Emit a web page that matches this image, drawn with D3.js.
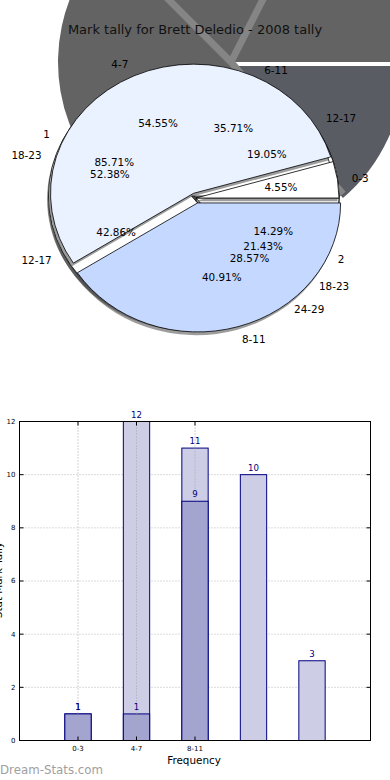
<!DOCTYPE html>
<html>
<head>
<meta charset="utf-8">
<script src="https://cdnjs.cloudflare.com/ajax/libs/d3/7.8.5/d3.min.js"></script>
<style>
  body { margin: 0; background: #fff; }
  text { font-family: "DejaVu Sans", sans-serif; }
</style>
</head>
<body>
<div id="chart"></div>
<script>
// pies are stacked on top of each other, last one ends up in front
const pieValues = [[4, 11, 6], [5, 6, 3], [12, 2], [1, 12, 9]]
const pieLabels = [['12-17', '18-23', '24-29'], ['6-11', '12-17', '18-23'], ['1', '2'], ['0-3', '4-7', '8-11']]
const pieExplode = [[0, 0.03, 0], [0, 0.02, 0], [0.035, 0], [0, 0.04, 0.04]]
const frontColors = ['#ffffff', '#eaf1ff', '#c5d8ff']

// big grey shadow left behind the pies
const backValues = [17.5, 20, 48.7, 13.8]
const backColors = ['#636363', '#636363', '#636363', '#5a5c64']

const freqLabels = ['0-3', '4-7', '8-11']
const lightTally = [1, 12, 11, 10, 3]
const darkTally = [1, 1, 9]
const yTicks = [0, 2, 4, 6, 8, 10, 12]

const svg = d3.select('#chart').append('svg')
  .attr('width', 390)
  .attr('height', 780)

const unitArc = d3.arc().innerRadius(0).outerRadius(1)
const pie = d3.pie().sort(null)
  .startAngle(Math.PI / 2)
  .endAngle(Math.PI / 2 - 2 * Math.PI)
const mid = d => (d.startAngle + d.endAngle) / 2
const dir = (a, r) => [Math.sin(a) * r, -Math.cos(a) * r]

// ---- back shadow pie
const backR = 173
const backArc = d3.arc().innerRadius(0).outerRadius(backR)
const back = svg.append('g').attr('transform', 'translate(231,62)')
const backArcs = pie(backValues)
back.selectAll('path')
  .data(backArcs)
  .enter()
  .append('path')
  .attr('d', backArc)
  .attr('fill', (d, i) => backColors[i])
  .attr('transform', (d, i) => i === 3 ? 'translate(0,4)' : null)
back.selectAll('line')
  .data(backArcs.slice(1))
  .enter()
  .append('line')
  .attr('x1', 0).attr('y1', 0)
  .attr('x2', d => dir(d.startAngle, backR)[0])
  .attr('y2', d => dir(d.startAngle, backR)[1])
  .attr('stroke', '#858585')
  .attr('stroke-width', 7)

// ---- the stacked pies
const cx = 196, cy = 198, rx = 143, ry = 129
const pies = svg.append('g').attr('transform', `translate(${cx},${cy})`)
const labelData = []

pieValues.forEach((vals, k) => {
  const arcs = pie(vals)
  const total = d3.sum(vals)
  const front = k === pieValues.length - 1
  const g = pies.append('g').attr('transform', `scale(${rx},${ry})`)

  g.selectAll('path.shadow')
    .data(arcs)
    .enter()
    .append('path')
    .attr('class', 'shadow')
    .attr('d', unitArc)
    .attr('transform', (d, i) => {
      const o = dir(mid(d), pieExplode[k][i])
      return `translate(${o[0] - 0.01},${o[1] + 0.025})`
    })
    .attr('fill', '#4d4d4d')
    .attr('opacity', 0.55)

  g.selectAll('path.wedge')
    .data(arcs)
    .enter()
    .append('path')
    .attr('class', 'wedge')
    .attr('d', unitArc)
    .attr('transform', (d, i) => {
      const o = dir(mid(d), pieExplode[k][i])
      return `translate(${o[0]},${o[1]})`
    })
    .attr('fill', (d, i) => front ? frontColors[i] : '#ffffff')
    .attr('stroke', '#000')
    .attr('stroke-width', 0.8)
    .attr('vector-effect', 'non-scaling-stroke')

  arcs.forEach((d, i) => {
    const o = dir(mid(d), pieExplode[k][i])
    const p = dir(mid(d), 1.1)
    const q = dir(mid(d), 0.6)
    labelData.push({ text: pieLabels[k][i], x: (o[0] + p[0]) * rx, y: (o[1] + p[1]) * ry, side: p[0] > 0 ? 'start' : 'end' })
    labelData.push({ text: d3.format('.2f')(vals[i] / total * 100) + '%', x: (o[0] + q[0]) * rx, y: (o[1] + q[1]) * ry, side: 'middle' })
  })
})

pies.selectAll('text')
  .data(labelData)
  .enter()
  .append('text')
  .attr('x', d => d.x)
  .attr('y', d => d.y)
  .attr('dy', '0.36em')
  .attr('text-anchor', d => d.side)
  .attr('font-size', 10.4)
  .attr('fill', '#000')
  .text(d => d.text)

svg.append('text')
  .attr('x', 195)
  .attr('y', 34)
  .attr('text-anchor', 'middle')
  .attr('font-size', 13)
  .attr('fill', '#111')
  .text('Mark tally for Brett Deledio - 2008 tally')

// ---- bar chart
const x = d3.scaleLinear().domain([0, 6]).range([19.5, 370.5])
const y = d3.scaleLinear().domain([0, 12]).range([740.5, 421.5])
const barW = x(0.45) - x(0)

const chart = svg.append('g')

chart.selectAll('line.hgrid')
  .data(yTicks.slice(1, -1))
  .enter()
  .append('line')
  .attr('class', 'hgrid')
  .attr('x1', x(0)).attr('x2', x(6))
  .attr('y1', d => y(d)).attr('y2', d => y(d))
  .attr('stroke', '#b8b8b8')
  .attr('stroke-dasharray', '1,2')

chart.selectAll('rect.light')
  .data(lightTally)
  .enter()
  .append('rect')
  .attr('class', 'light')
  .attr('x', (d, i) => x(i + 1) - barW / 2)
  .attr('y', d => y(d))
  .attr('width', barW)
  .attr('height', d => y(0) - y(d))
  .attr('fill', '#cdcde6')
  .attr('stroke', '#000080')

chart.selectAll('rect.dark')
  .data(darkTally)
  .enter()
  .append('rect')
  .attr('class', 'dark')
  .attr('x', (d, i) => x(i + 1) - barW / 2)
  .attr('y', d => y(d))
  .attr('width', barW)
  .attr('height', d => y(0) - y(d))
  .attr('fill', '#a4a4d1')
  .attr('stroke', '#000080')

chart.selectAll('line.vgrid')
  .data(freqLabels)
  .enter()
  .append('line')
  .attr('class', 'vgrid')
  .attr('x1', (d, i) => x(i + 1)).attr('x2', (d, i) => x(i + 1))
  .attr('y1', y(0)).attr('y2', y(12))
  .attr('stroke', '#a8a8a8')
  .attr('stroke-dasharray', '1,2')

const barText = lightTally.map((v, i) => ({ v, i })).concat(darkTally.map((v, i) => ({ v, i })))
chart.selectAll('text.val')
  .data(barText)
  .enter()
  .append('text')
  .attr('class', 'val')
  .attr('x', d => x(d.i + 1))
  .attr('y', d => y(d.v) - 4)
  .attr('text-anchor', 'middle')
  .attr('font-size', 8.6)
  .attr('fill', '#000080')
  .text(d => d.v)

chart.append('rect')
  .attr('x', x(0)).attr('y', y(12))
  .attr('width', x(6) - x(0)).attr('height', y(0) - y(12))
  .attr('fill', 'none')
  .attr('stroke', '#000')

yTicks.forEach(t => {
  chart.append('line').attr('x1', x(0)).attr('x2', x(0) + 4).attr('y1', y(t)).attr('y2', y(t)).attr('stroke', '#000')
  chart.append('line').attr('x1', x(6)).attr('x2', x(6) - 4).attr('y1', y(t)).attr('y2', y(t)).attr('stroke', '#000')
})
chart.selectAll('text.ytick')
  .data(yTicks)
  .enter()
  .append('text')
  .attr('class', 'ytick')
  .attr('x', x(0) - 4)
  .attr('y', d => y(d))
  .attr('dy', '0.35em')
  .attr('text-anchor', 'end')
  .attr('font-size', 7)
  .text(d => d)

freqLabels.forEach((f, i) => {
  chart.append('line').attr('x1', x(i + 1)).attr('x2', x(i + 1)).attr('y1', y(0)).attr('y2', y(0) - 4).attr('stroke', '#000')
  chart.append('line').attr('x1', x(i + 1)).attr('x2', x(i + 1)).attr('y1', y(12)).attr('y2', y(12) + 4).attr('stroke', '#000')
})
chart.selectAll('text.xtick')
  .data(freqLabels)
  .enter()
  .append('text')
  .attr('class', 'xtick')
  .attr('x', (d, i) => x(i + 1))
  .attr('y', y(0) + 10)
  .attr('text-anchor', 'middle')
  .attr('font-size', 7)
  .text(d => d)

chart.append('text')
  .attr('x', 194)
  .attr('y', 764)
  .attr('text-anchor', 'middle')
  .attr('font-size', 10.4)
  .text('Frequency')

// the y label sits mostly past the left edge, as in the original
chart.append('text')
  .attr('transform', 'translate(2,580) rotate(-90)')
  .attr('text-anchor', 'middle')
  .attr('font-size', 10.4)
  .text('Stat Mark Tally')

svg.append('text')
  .attr('x', 0)
  .attr('y', 774)
  .attr('font-size', 11.8)
  .attr('fill', '#a0a0a0')
  .text('Dream-Stats.com')
</script>
</body>
</html>
